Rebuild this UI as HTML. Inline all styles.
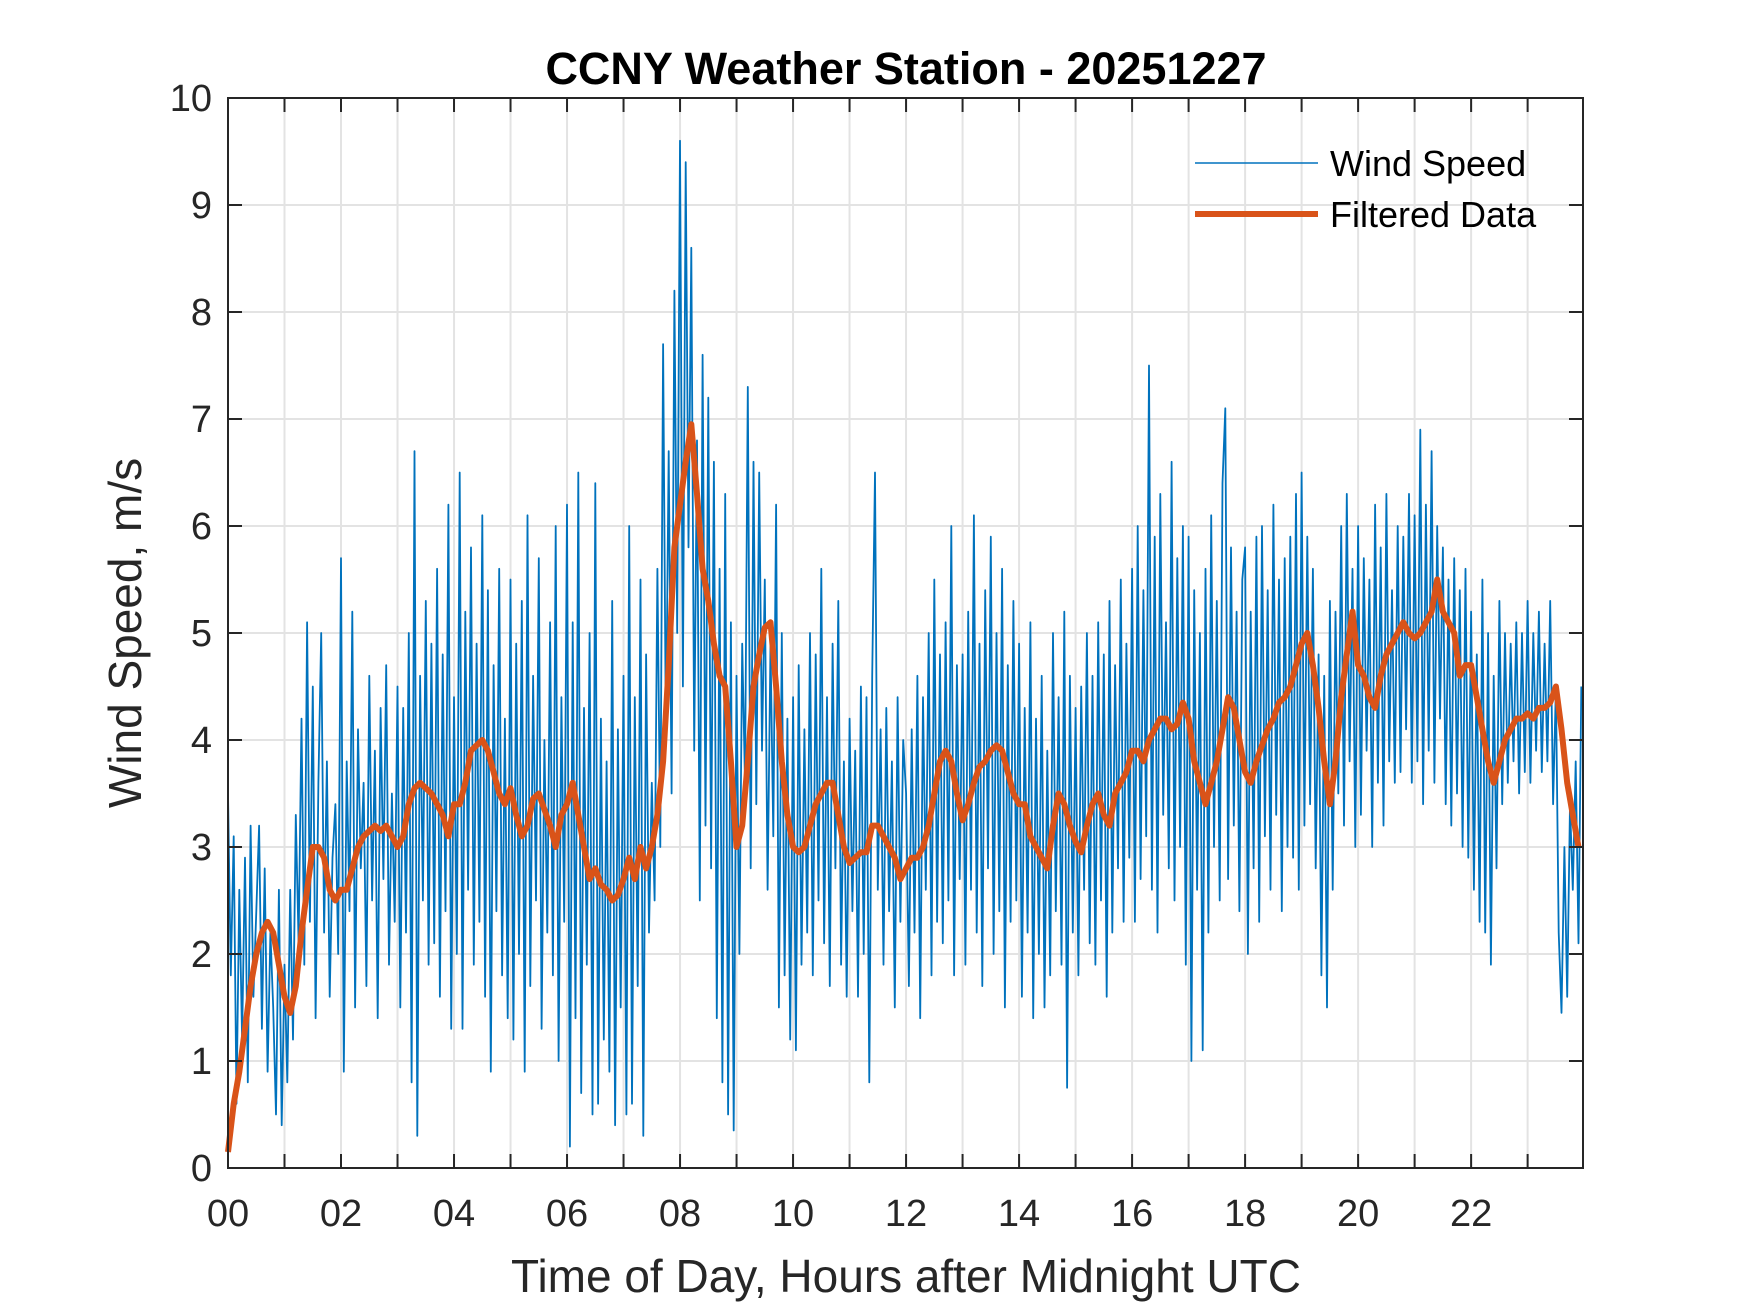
<!DOCTYPE html>
<html><head><meta charset="utf-8"><style>
html,body{margin:0;padding:0;background:#fff;}
svg{display:block;font-family:"Liberation Sans",Arial,sans-serif;}
</style></head><body>
<svg id="chart" width="1750" height="1313" viewBox="0 0 1750 1313" xmlns="http://www.w3.org/2000/svg">
<rect width="1750" height="1313" fill="#fff"/>
<g id="grid"></g>
<g id="plot"></g>
<g id="axes"></g>
<text x="906" y="84" text-anchor="middle" font-size="45" font-weight="bold" fill="#000">CCNY Weather Station - 20251227</text>
<text x="906" y="1292" text-anchor="middle" font-size="46" fill="#262626">Time of Day, Hours after Midnight UTC</text>
<text transform="translate(141,633) rotate(-90)" text-anchor="middle" font-size="46" fill="#262626">Wind Speed, m/s</text>
<g>
<line x1="1195" y1="163" x2="1318" y2="163" stroke="#0072BD" stroke-width="1.5"/>
<text x="1330" y="176" font-size="36" fill="#000">Wind Speed</text>
<line x1="1195" y1="214" x2="1318" y2="214" stroke="#D95319" stroke-width="6"/>
<text x="1330" y="227" font-size="36" fill="#000">Filtered Data</text>
</g>
</svg>
<script>
const xTickLabels = ["00","02","04","06","08","10","12","14","16","18","20","22"];
const yTickLabels = ["0","1","2","3","4","5","6","7","8","9","10"];
const rawStep = 0.05;
const filtStep = 0.1;
const windSpeed = [
3.5,1.8,3.1,0.6,2.6,1.2,2.9,0.8,3.2,1.6,2.4,3.2,1.3,2.8,0.9,2.2,1.5,0.5,2.6,0.4,
1.9,0.8,2.6,1.2,3.3,2.1,4.2,1.9,5.1,2.3,4.5,1.4,3.6,5.0,2.2,3.8,1.6,2.9,3.4,2.0,
5.7,0.9,3.8,2.4,5.2,1.5,4.1,2.8,3.6,1.7,4.6,2.5,3.9,1.4,4.3,2.7,4.7,1.9,3.5,2.3,
4.5,1.5,4.3,2.2,5.0,0.8,6.7,0.3,4.6,2.5,5.3,1.9,4.9,2.1,5.6,1.6,4.8,2.4,6.2,1.3,
4.4,2.0,6.5,1.3,5.2,2.6,5.8,1.9,4.9,2.3,6.1,1.6,5.4,0.9,4.7,2.4,5.6,1.8,4.2,1.4,
5.5,1.2,4.9,2.0,5.3,0.9,6.1,1.7,4.6,2.5,5.7,1.3,4.0,2.2,5.1,1.8,6.0,1.0,4.4,2.3,
6.2,0.2,5.1,1.4,6.5,0.7,4.3,1.9,5.0,0.5,6.4,0.6,4.2,1.2,3.8,0.9,5.3,0.4,4.1,1.5,
4.6,0.5,6.0,0.6,4.4,1.7,5.5,0.3,4.8,2.2,3.6,2.5,5.6,3.0,7.7,4.0,6.7,3.5,8.2,5.0,
9.6,4.5,9.4,5.8,8.6,3.9,6.8,2.5,7.6,3.2,7.2,2.8,6.6,1.4,5.6,0.8,6.3,0.5,5.1,0.35,
4.6,2.0,4.9,3.6,7.3,2.8,6.6,3.4,6.5,3.9,5.5,2.6,4.9,3.1,6.2,1.5,5.0,1.8,4.2,1.2,
4.4,1.1,4.7,1.9,4.1,2.2,5.0,1.8,4.8,2.5,5.6,2.1,4.4,1.7,4.9,2.8,5.3,1.9,3.8,1.6,
4.2,2.4,3.9,1.6,4.5,2.0,4.4,0.8,4.6,6.5,2.6,4.1,1.9,4.3,2.4,3.8,1.5,4.4,2.3,4.0,
3.5,1.7,4.1,2.2,4.6,1.4,4.4,2.6,5.0,1.8,5.5,2.3,4.8,2.1,5.1,2.5,6.0,1.8,4.7,2.7,
4.8,1.9,5.2,2.6,6.1,2.2,4.9,1.7,5.4,2.8,5.9,2.0,5.0,2.4,5.6,1.5,4.7,2.3,5.3,2.5,
4.9,1.6,4.3,2.2,5.1,1.4,4.2,2.0,4.6,1.5,3.9,1.8,5.0,2.4,4.4,1.9,5.2,0.75,4.6,2.2,
4.3,1.8,4.5,2.6,5.0,2.1,4.6,1.9,5.1,2.5,4.8,1.6,5.3,2.2,4.7,2.8,5.5,2.3,4.9,2.9,
5.6,2.3,6.0,2.7,5.4,3.1,7.5,2.6,5.9,2.2,6.3,3.3,5.1,2.8,6.6,2.5,5.7,3.0,6.0,1.9,
5.9,1.0,5.4,2.6,5.0,1.1,5.6,2.2,6.1,3.0,5.3,2.5,6.4,7.1,2.7,5.8,3.2,5.2,2.4,5.5,
5.8,2.0,5.2,2.8,5.9,2.3,6.0,3.1,5.4,2.6,6.2,3.3,5.5,2.4,5.7,3.0,5.9,2.9,6.3,2.6,
6.5,3.2,5.9,3.4,5.6,2.8,4.8,1.8,4.6,1.5,5.3,2.6,5.2,3.5,6.0,3.2,6.3,3.8,5.6,3.0,
6.0,3.3,5.7,3.9,5.5,3.0,6.2,3.6,5.8,3.2,6.3,3.8,5.4,3.6,6.0,3.7,5.9,4.1,6.3,3.6,
6.1,3.8,6.9,3.4,6.2,3.9,6.7,3.6,6.0,4.2,5.8,3.4,5.5,3.2,5.7,3.5,5.4,3.0,5.6,2.9,
5.2,2.6,4.8,2.3,5.5,2.2,5.0,1.9,4.6,2.8,5.3,3.4,5.0,3.6,4.9,3.8,5.1,3.5,5.0,3.7,
5.3,3.6,5.0,3.9,5.2,3.7,4.9,3.8,5.3,3.4,4.5,2.2,1.45,3.0,1.6,3.4,2.6,3.8,2.1,4.5
];
const filtered = [
0.15,0.6,0.9,1.3,1.7,2.0,2.2,2.3,2.2,1.9,
1.6,1.45,1.7,2.2,2.6,3.0,3.0,2.9,2.6,2.5,
2.6,2.6,2.8,3.0,3.1,3.15,3.2,3.15,3.2,3.1,
3.0,3.1,3.4,3.55,3.6,3.55,3.5,3.4,3.3,3.1,
3.4,3.4,3.6,3.9,3.95,4.0,3.9,3.7,3.5,3.4,
3.55,3.3,3.1,3.2,3.45,3.5,3.35,3.2,3.0,3.3,
3.4,3.6,3.3,3.0,2.7,2.8,2.65,2.6,2.5,2.55,
2.7,2.9,2.7,3.0,2.8,3.0,3.3,3.8,4.7,5.8,
6.2,6.6,6.95,6.3,5.6,5.3,4.9,4.6,4.5,3.8,
3.0,3.2,3.8,4.5,4.8,5.05,5.1,4.5,3.8,3.3,
3.0,2.95,3.0,3.2,3.4,3.5,3.6,3.6,3.3,3.0,
2.85,2.9,2.95,2.95,3.2,3.2,3.1,3.0,2.9,2.7,
2.8,2.9,2.9,3.0,3.2,3.5,3.8,3.9,3.8,3.5,
3.25,3.4,3.6,3.75,3.8,3.9,3.95,3.9,3.7,3.5,
3.4,3.4,3.1,3.0,2.9,2.8,3.2,3.5,3.4,3.2,
3.05,2.95,3.2,3.4,3.5,3.3,3.2,3.5,3.6,3.7,
3.9,3.9,3.8,4.0,4.1,4.2,4.2,4.1,4.15,4.35,
4.2,3.8,3.6,3.4,3.6,3.8,4.1,4.4,4.3,4.0,
3.7,3.6,3.8,3.95,4.1,4.2,4.35,4.4,4.5,4.7,
4.9,5.0,4.7,4.3,3.8,3.4,3.8,4.4,4.8,5.2,
4.7,4.6,4.4,4.3,4.6,4.8,4.9,5.0,5.1,5.0,
4.95,5.0,5.1,5.2,5.5,5.2,5.1,5.0,4.6,4.7,
4.7,4.4,4.1,3.8,3.6,3.8,4.0,4.1,4.2,4.2,
4.25,4.2,4.3,4.3,4.35,4.5,4.1,3.6,3.3,3.0
];
const X0=228, X1=1583, Y0=1168, Y1=98, XMAX=23.98, YMAX=10;
function xs(h){return X0+(h/XMAX)*(X1-X0);}
function ys(v){return Y0-(v/YMAX)*(Y0-Y1);}
const NS="http://www.w3.org/2000/svg";
function mk(tag,parent){const e=document.createElementNS(NS,tag);parent.appendChild(e);return e;}
const grid=document.getElementById('grid'), plot=document.getElementById('plot'), axes=document.getElementById('axes');
for(let h=0;h<=23;h++){
  const x=xs(h);
  if(h>0){const g=mk('line',grid);
  
  
  g.setAttribute('x1',x);g.setAttribute('x2',x);g.setAttribute('y1',Y1);g.setAttribute('y2',Y0);g.setAttribute('stroke','#e3e3e3');g.setAttribute('stroke-width','2');}
  for(const [ya,yb] of [[Y0,Y0-14],[Y1,Y1+14]]){const t=mk('line',axes);
  
  
  t.setAttribute('x1',x);t.setAttribute('x2',x);t.setAttribute('y1',ya);t.setAttribute('y2',yb);t.setAttribute('stroke','#262626');t.setAttribute('stroke-width','2');}
}
xTickLabels.forEach((lab,i)=>{const t=mk('text',axes);
  
  
  t.setAttribute('x',xs(i*2));t.setAttribute('y',1226);t.setAttribute('text-anchor','middle');t.setAttribute('font-size','38');t.setAttribute('fill','#262626');t.textContent=lab;});
yTickLabels.forEach((lab,i)=>{const y=ys(i);
  if(i>0&&i<10){const g=mk('line',grid);
  
  
  g.setAttribute('x1',X0);g.setAttribute('x2',X1);g.setAttribute('y1',y);g.setAttribute('y2',y);g.setAttribute('stroke','#e3e3e3');g.setAttribute('stroke-width','2');}
  for(const [xa,xb] of [[X0,X0+14],[X1,X1-14]]){const t=mk('line',axes);
  
  
  t.setAttribute('x1',xa);t.setAttribute('x2',xb);t.setAttribute('y1',y);t.setAttribute('y2',y);t.setAttribute('stroke','#262626');t.setAttribute('stroke-width','2');}
  const t=mk('text',axes);
  
  
  t.setAttribute('x',212);t.setAttribute('y',y+13);t.setAttribute('text-anchor','end');t.setAttribute('font-size','38');t.setAttribute('fill','#262626');t.textContent=lab;});
const box=mk('rect',axes);


box.setAttribute('x',X0);box.setAttribute('y',Y1);box.setAttribute('width',X1-X0);box.setAttribute('height',Y0-Y1);box.setAttribute('fill','none');box.setAttribute('stroke','#262626');box.setAttribute('stroke-width','2');
const raw=mk('polyline',plot);


raw.setAttribute('points',windSpeed.map((v,i)=>xs(i*rawStep).toFixed(1)+','+ys(v).toFixed(1)).join(' '));
raw.setAttribute('fill','none');raw.setAttribute('stroke','#0072BD');raw.setAttribute('stroke-width','1.8');raw.setAttribute('stroke-linejoin','round');
const fl=mk('polyline',plot);


fl.setAttribute('points',filtered.map((v,i)=>xs(i*filtStep).toFixed(1)+','+ys(v).toFixed(1)).join(' '));
fl.setAttribute('fill','none');fl.setAttribute('stroke','#D95319');fl.setAttribute('stroke-width','6');fl.setAttribute('stroke-linejoin','round');
</script>
</body></html>
